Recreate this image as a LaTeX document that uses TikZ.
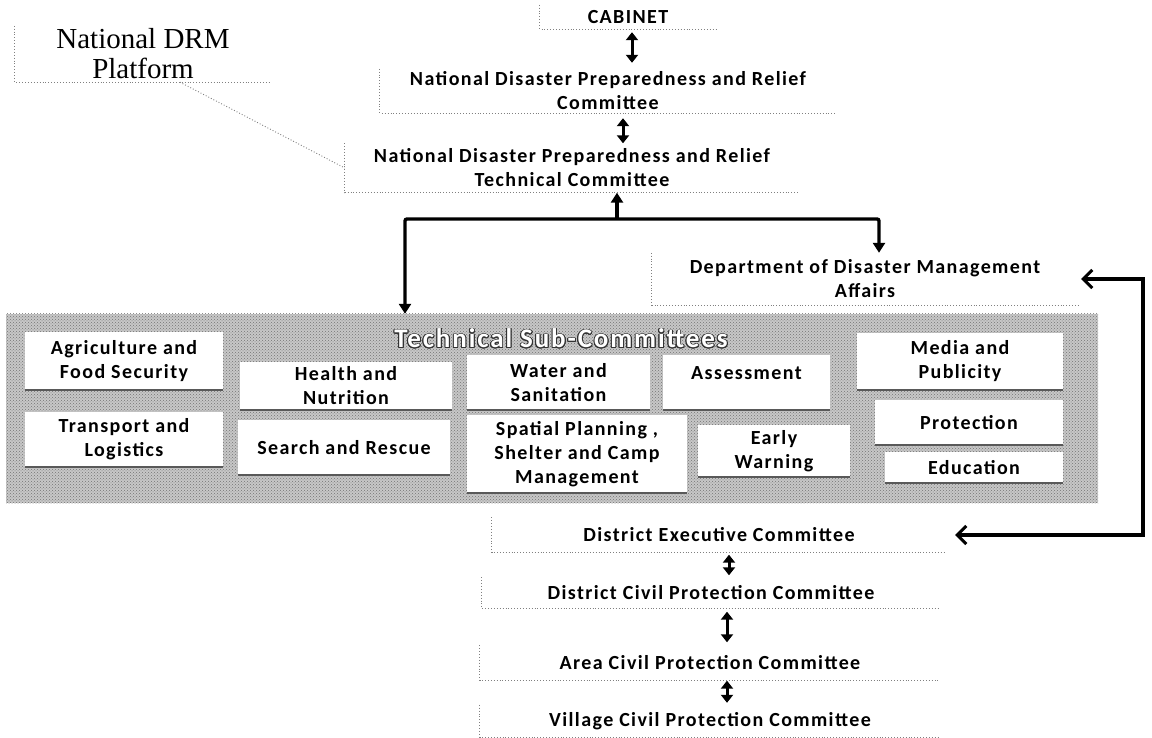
\documentclass[tikz,border=0pt]{standalone}
\usepackage{fontspec}
\newfontfamily\boxfont{Carlito}[LetterSpace=7]
\newfontfamily\drmfont{Liberation Serif}
\usepackage{contour}
\contourlength{0.9pt}
\contournumber{20}
\usetikzlibrary{arrows.meta,patterns}
\tikzset{
  ttip/.tip={Triangle[length=10pt,width=12pt]},
  bbarb/.tip={Straight Barb[length=9pt,width=18pt,line width=3pt]}
}
\begin{document}
\begin{tikzpicture}[x=1pt,y=-1pt,
  hbox/.style={font=\boxfont\bfseries\fontsize{20}{24}\selectfont, align=center, inner sep=0pt},
  sbox/.style={hbox, fill=white},
  edge/.style={draw=black!50, dotted, line width=0.9pt},
  subedge/.style={draw=black!65, line width=1.6pt},
  dbl/.style={line width=3pt, {Triangle[length=8pt,width=12pt]}-{Triangle[length=8pt,width=12pt]}},
  conn/.style={line width=3.4pt}
]
\useasboundingbox (0,0) rectangle (1152,738);
\fill[white] (0,0) rectangle (1152,738);

% National DRM platform
\node[font=\drmfont\fontsize{29}{30}\selectfont, align=center, inner sep=0pt,
      minimum width=256pt, minimum height=56pt] (drm) at (143,54) {National DRM\\Platform};

% hierarchy boxes
\node[hbox, minimum width=176pt, minimum height=24pt] (cab) at (628,17) {CABINET};
\node[hbox, minimum width=456pt, minimum height=44pt] (ndprc) at (608,91) {National Disaster Preparedness and Relief\\Committee};
\node[hbox, minimum width=454pt, minimum height=49pt] (tc) at (572,168) {National Disaster Preparedness and Relief\\Technical Committee};
\node[hbox, minimum width=426pt, minimum height=52pt] (ddma) at (865,279) {Department of Disaster Management\\Affairs};
\node[hbox, minimum width=454pt, minimum height=35pt] (dec) at (719,535) {District Executive Committee};
\node[hbox, minimum width=458pt, minimum height=31pt] (dcpc) at (711,593) {District Civil Protection Committee};
\node[hbox, minimum width=460pt, minimum height=35pt] (acpc) at (710,663) {Area Civil Protection Committee};
\node[hbox, minimum width=460pt, minimum height=32pt] (vcpc) at (710,721) {Village Civil Protection Committee};

\foreach \n in {drm,cab,ndprc,tc,ddma,dec,dcpc,acpc,vcpc}
  \draw[edge] (\n.north west) -- (\n.south west) -- (\n.south east);

% dotted connector from the platform label
\draw[edge] (180,0 |- drm.south) -- (tc.west);

% sub-committee panel
\node[fill=black!22, postaction={pattern=crosshatch dots, pattern color=black!55},
      minimum width=1092pt, minimum height=189pt, inner sep=0pt] (panel) at (552,408.5) {};
\node[font=\boxfont\bfseries\fontsize{27}{30}\selectfont, text=white, inner sep=0pt] (title) at (561,339)
  {\contour{black!80}{Technical Sub-Committees}};

\node[sbox, minimum width=198pt, minimum height=58pt] (agri) at (124,361) {Agriculture and\\Food Security};
\node[sbox, minimum width=198pt, minimum height=55pt] (trans) at (124,439.5) {Transport and\\Logistics};
\node[sbox, minimum width=212pt, minimum height=48pt] (health) at (346,386) {Health and\\Nutrition};
\node[sbox, minimum width=212pt, minimum height=55pt] (search) at (344,447.5) {Search and Rescue};
\node[sbox, minimum width=183pt, minimum height=55pt] (water) at (558.5,382.5) {Water and\\Sanitation};
\node[sbox, minimum width=167pt, minimum height=55pt, text depth=18pt] (assess) at (746.5,382.5) {Assessment};
\node[sbox, minimum width=220pt, minimum height=78pt] (spatial) at (577,454) {Spatial Planning ,\\Shelter and Camp\\Management};
\node[sbox, minimum width=152pt, minimum height=52pt] (early) at (774,451) {Early\\Warning};
\node[sbox, minimum width=206pt, minimum height=57pt] (media) at (960,361.5) {Media and\\Publicity};
\node[sbox, minimum width=188pt, minimum height=45pt] (prot) at (969,422.5) {Protection};
\node[sbox, minimum width=178pt, minimum height=31pt] (edu) at (974,467.5) {Education};

\foreach \n in {agri,trans,health,search,water,assess,spatial,early,media,prot,edu}
  \draw[subedge] (\n.south west) -- (\n.south east);

% double arrows between levels
\draw[dbl, shorten <=3pt, shorten >=6pt] (632,0 |- cab.south) -- (632,0 |- ndprc.north);
\draw[dbl, shorten <=5pt] (623,0 |- ndprc.south) -- (623,0 |- tc.north);
\draw[dbl, shorten <=2pt, shorten >=2pt] (729,0 |- dec.south) -- (729,0 |- dcpc.north);
\draw[dbl, shorten <=3pt, shorten >=3pt] (727,0 |- dcpc.south) -- (727,0 |- acpc.north);
\draw[dbl, shorten >=2pt] (727,0 |- acpc.south) -- (727,0 |- vcpc.north);

% technical committee connectors
\coordinate (j) at (617,219);
\draw[conn, -{ttip}] (j) -- (617,0 |- tc.south);
\draw[conn, rounded corners=2pt, {ttip}-{ttip}] (405,0 |- panel.north) |- (879,219) -- (879,0 |- ddma.north);

% right bracket
\draw[conn, {bbarb}-{bbarb}] ([xshift=3pt]ddma.east) -| (1143,400) |- ([xshift=9pt]dec.east);
\end{tikzpicture}
\end{document}
